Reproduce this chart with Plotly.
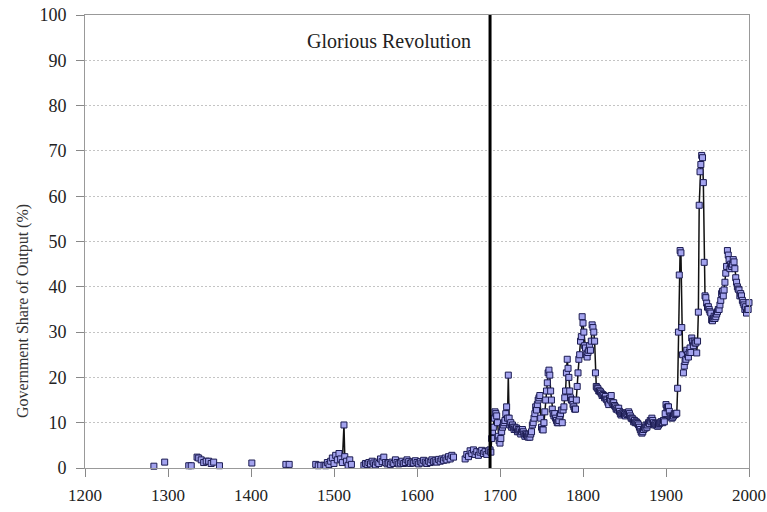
import plotly.graph_objects as go

# ---------------- data ----------------
seg_early_years = [
    [1283],
    [1296],
    [1325, 1328],
    [1335, 1337, 1340, 1343, 1346, 1349, 1352, 1355],
    [1362],
    [1401],
    [1442, 1446],
    [1478, 1481, 1484],
    [1488, 1490, 1492, 1494, 1496, 1498, 1500, 1502, 1504, 1506, 1508, 1510, 1512, 1513, 1515, 1517, 1519, 1521],
]
seg_early_values = [
    [0.4],
    [1.3],
    [0.5, 0.5],
    [2.4, 2.2, 1.8, 1.2, 1.5, 1.5, 1.0, 1.3],
    [0.5],
    [1.1],
    [0.8, 0.8],
    [0.8, 0.5, 0.6],
    [0.6, 0.5, 1.2, 0.8, 1.5, 2.2, 1.0, 2.8, 1.8, 3.2, 2.0, 1.2, 9.5, 2.5, 1.5, 0.6, 1.8, 0.8],
]

tudor_years = list(range(1536, 1645, 2))
tudor_values = [0.6, 1.0, 0.8, 1.2, 0.9, 1.5, 1.1, 0.7, 1.3, 1.0,
                2.0, 1.4, 2.4, 1.2, 0.9, 1.1, 0.8, 1.3, 1.0, 1.8,
                1.2, 0.9, 1.1, 1.5, 1.0, 1.2, 1.8, 1.4, 1.0, 1.3,
                1.1, 1.6, 1.2, 0.9, 1.4, 1.1, 1.7, 1.3, 1.0, 1.5,
                1.2, 1.8, 1.4, 1.6, 1.3, 1.9, 1.5, 2.0, 1.7, 2.2,
                1.8, 2.5, 2.0, 2.8, 2.4]

restoration_years = list(range(1658, 1688, 2))
restoration_values = [2.0, 3.0, 2.5, 3.8, 3.2, 4.0, 3.0, 3.6, 2.8, 3.5,
                      3.9, 3.2, 3.6, 3.0, 3.8]

modern_years = list(range(1688, 2001))
modern_values = [
    # 1688-1699
    4.0, 3.5, 6.5, 8.0, 9.0, 11.0, 12.4, 12.0, 11.5, 10.0, 7.0, 6.0,
    # 1700s
    5.5, 6.5, 8.0, 9.0, 9.5, 10.0, 10.5, 12.0, 13.5, 11.0,
    20.5, 11.0, 9.5, 10.0, 9.0, 9.5, 9.0, 8.5, 9.0, 8.5,
    8.8, 8.0, 8.5, 8.0, 8.4, 7.5, 8.0, 8.5, 8.0, 7.5,
    7.0, 7.5, 7.3, 7.0, 6.8, 7.5, 6.8, 7.5, 8.0, 9.5,
    10.0, 11.0, 12.0, 13.5, 12.8, 14.0, 15.0, 15.5, 16.0, 11.0,
    9.0, 8.5, 8.4, 10.0, 12.4, 15.0, 17.0, 18.8, 21.0, 21.6,
    20.5, 17.0, 15.0, 13.0, 12.0, 11.5, 12.0, 11.0, 10.5, 10.0,
    10.0, 10.5, 11.5, 12.0, 12.8, 10.0, 12.8, 13.5, 15.5, 17.0,
    21.0, 24.0, 22.0, 20.0, 17.0, 15.5, 15.0, 15.0, 14.0, 13.5,
    13.0, 13.0, 15.0, 18.0, 21.0, 24.0, 25.0, 28.0, 29.0, 33.4,
    # 1800s
    32.0, 30.0, 27.0, 26.5, 25.0, 24.5, 25.5, 26.0, 27.0, 26.0,
    28.0, 31.6, 31.0, 30.0, 28.0, 21.0, 18.0, 17.7, 17.5, 17.0,
    17.0, 16.8, 16.5, 16.0, 16.2, 16.0, 15.5, 15.8, 15.2, 15.0,
    14.5, 14.0, 15.4, 15.0, 16.0, 14.5, 14.2, 14.4, 13.8, 13.5,
    13.0, 13.2, 12.8, 13.2, 12.5, 12.0, 11.7, 12.0, 12.2, 12.0,
    11.8, 11.5, 12.1, 11.8, 12.0, 12.4, 12.0, 11.5, 11.0, 11.0,
    10.8, 10.2, 10.5, 10.0, 10.2, 10.0, 9.8, 9.5, 9.0, 8.5,
    8.0, 7.7, 8.0, 8.5, 9.0, 8.8, 9.5, 9.0, 9.5, 10.0,
    9.8, 10.5, 10.2, 11.0, 10.5, 10.0, 9.5, 9.8, 9.5, 9.5,
    9.2, 9.5, 9.8, 10.0, 10.2, 10.2, 10.0, 10.5, 10.2, 12.0,
    # 1900s
    14.0, 13.3, 13.5, 13.5, 12.5, 11.5, 11.3, 11.0, 11.2, 11.5,
    12.0, 11.8, 12.0, 12.1, 17.6, 30.0, 42.6, 48.0, 47.5, 31.0,
    25.0, 21.0, 22.5, 23.5, 24.0, 26.0, 25.0, 24.5, 25.5, 26.5,
    25.5, 28.7, 28.0, 27.0, 28.0, 27.6, 27.6, 25.4, 28.0, 34.4,
    58.0, 65.4, 67.0, 69.0, 68.5, 63.0, 45.4, 38.0, 37.6, 36.4,
    35.5, 35.6, 35.0, 34.5, 34.2, 32.7, 32.5, 33.0, 33.5, 33.0,
    33.4, 34.0, 34.5, 35.0, 35.0, 36.0, 37.0, 38.5, 39.0, 38.0,
    39.3, 41.0, 43.0, 44.5, 48.0, 47.0, 46.0, 44.0, 45.0, 44.5,
    45.0, 46.0, 45.5, 44.0, 42.0, 41.0, 40.0, 39.5, 39.3, 38.0,
    38.5, 38.0, 37.0, 36.5, 36.0, 35.0, 35.6, 34.2, 35.0, 35.0,
    # 2000
    36.5,
]

REVOLUTION_YEAR = 1688
REVOLUTION_LABEL = "Glorious Revolution"
Y_TITLE = "Government Share of Output (%)"
X_TICKS = list(range(1200, 2001, 100))
Y_TICKS = list(range(0, 101, 10))

# ------------- assemble segments with gaps -------------
all_year_segs = seg_early_years + [tudor_years, restoration_years, modern_years]
all_val_segs = seg_early_values + [tudor_values, restoration_values, modern_values]
xs, ys = [], []
for yrs, vals in zip(all_year_segs, all_val_segs):
    if xs:
        xs.append(None)
        ys.append(None)
    xs.extend(yrs)
    ys.extend(vals)

FONT = "Liberation Serif"

fig = go.Figure()
fig.add_trace(go.Scatter(
    x=xs, y=ys, mode="lines+markers", connectgaps=False,
    line=dict(color="#111111", width=1.5),
    marker=dict(symbol="square", size=6, color="#a3a3ee",
                line=dict(color="#1a1a50", width=1)),
    showlegend=False, hoverinfo="x+y", cliponaxis=False,
))

fig.add_shape(type="line", xref="x", yref="y",
              x0=REVOLUTION_YEAR, x1=REVOLUTION_YEAR, y0=0, y1=100,
              line=dict(color="black", width=3))

fig.add_annotation(x=1566, y=94.3, xref="x", yref="y", text=REVOLUTION_LABEL,
                   showarrow=False, font=dict(family=FONT, size=20, color="#222"))

fig.add_annotation(x=-0.093, y=0.347, xref="paper", yref="paper", text=Y_TITLE,
                   textangle=-90, showarrow=False, xanchor="center", yanchor="middle",
                   font=dict(family=FONT, size=16, color="#333"))

fig.update_layout(
    width=767, height=512,
    margin=dict(l=85, r=18, t=15, b=44, autoexpand=False),
    paper_bgcolor="white", plot_bgcolor="white",
    font=dict(family=FONT, size=18, color="#222"),
)
fig.update_xaxes(range=[1200, 2000], tickvals=X_TICKS, ticks="outside", ticklen=8,
                 tickcolor="#888", showline=True, linecolor="#999", linewidth=1,
                 mirror=True, showgrid=False, zeroline=False, automargin=False,
                 tickfont=dict(size=17),
                 ticklabeloverflow="allow", ticklabelstandoff=4)
fig.update_yaxes(range=[0, 100], tickvals=Y_TICKS, ticks="outside", ticklen=8,
                 tickcolor="#888", showline=True, linecolor="#999", linewidth=1,
                 mirror=True, showgrid=True, gridcolor="#c4c4c4", griddash="2px,2px",
                 gridwidth=1, zeroline=False, automargin=False,
                 ticklabeloverflow="allow", ticklabelstandoff=6)

fig.write_html("out.html")
